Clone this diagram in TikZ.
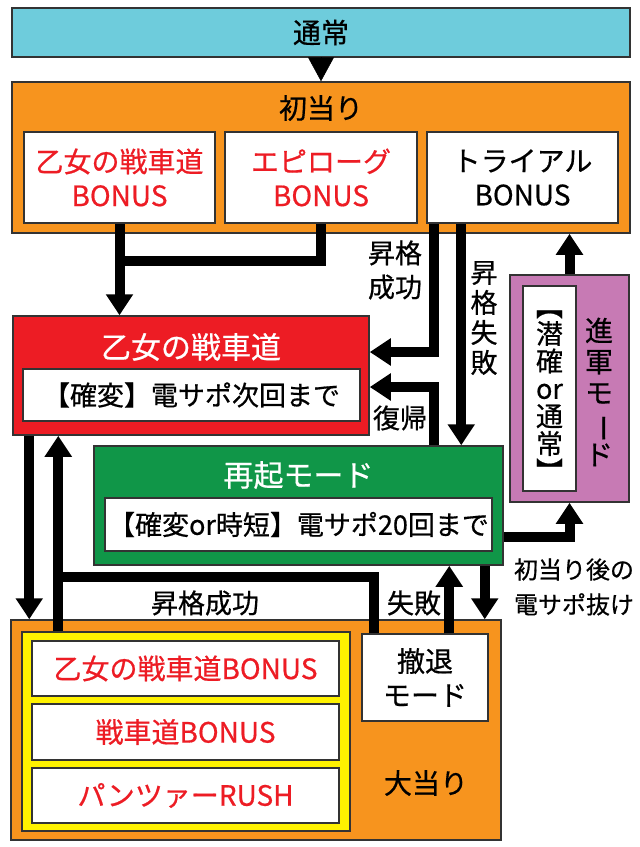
\documentclass[tikz,border=0pt]{standalone}
\usepackage{fontspec}
\setmainfont{Noto Sans CJK JP}[FakeBold=0.6]
\usepackage{graphicx}
\usetikzlibrary{arrows.meta,positioning,calc}
\definecolor{tsujoblue}{RGB}{110,204,220}
\definecolor{atariorg}{RGB}{247,148,30}
\definecolor{senred}{RGB}{237,28,36}
\definecolor{saikigrn}{RGB}{16,150,72}
\definecolor{shinpur}{RGB}{199,122,180}
\definecolor{rushyel}{RGB}{255,242,0}
\newcommand{\fsz}[2]{\fontsize{#1}{#2}\selectfont}
\newcommand{\vbar}[1]{\rotatebox[origin=c]{-90}{#1}}
\tikzset{
  blk/.style={draw=black!80,line width=1.5pt,rectangle,inner sep=0pt,align=center,font=\fsz{28}{34}},
  orgblk/.style={blk,fill=atariorg},
  whtblk/.style={blk,fill=white},
  redtxt/.style={text=senred},
  ttl/.style={font=\fsz{30}{36},text=white},
  arr/.style={line width=10pt,-{Triangle[length=21pt,width=26pt]}},
  ln/.style={line width=10pt},
  lbl/.style={font=\fsz{27}{34},align=center}
}
\begin{document}
\begin{tikzpicture}[x=1pt,y=-1pt]
  \useasboundingbox (0,0) rectangle (640,847);
  % 通常 and 初当り
  \node[blk,fill=tsujoblue,minimum width=618pt,minimum height=49pt] (tsujo) at (321,32.5) {通常};
  \node[orgblk,minimum width=618pt,minimum height=151pt] (hatsu) at (321,157.5) {};
  \node[font=\fsz{28}{34}] (hatsuttl) at (321,108) {初当り};
  \node[whtblk,redtxt,minimum width=191pt,minimum height=91pt] (otomebns) at (119.5,177.5) {乙女の戦車道\\BONUS};
  \node[whtblk,redtxt,minimum width=192pt,minimum height=91pt] (epibns) at (321,177.5) {エピローグ\\BONUS};
  \node[whtblk,minimum width=191pt,minimum height=91pt] (trialbns) at (522.5,177.5) {トライアル\\BONUS};

  % 乙女の戦車道
  \node[blk,fill=senred,minimum width=356pt,minimum height=119pt] (sen) at (191,375.5) {};
  \node[ttl] (senttl) at (191,347) {乙女の戦車道};
  \node[whtblk,font=\fsz{27}{34},minimum width=337pt,minimum height=52pt] (senin) at (191.5,395) {【確変】電サポ次回まで};

  % 進軍モード
  \node[blk,fill=shinpur,minimum width=119pt,minimum height=227pt] (shingun) at (569.5,388.5) {};
  \node[whtblk,font=\fsz{27}{27.5},minimum width=53pt,minimum height=205pt] (shinin) at (549.5,388.5) {\vbar{【}\\潜\\確\\or\\通\\常\\\vbar{】}};
  \node[font=\fsz{28}{31},align=center] (shinttl) at (599,392) {進\\軍\\モ\\\vbar{ー}\\ド};

  % 再起モード
  \node[blk,fill=saikigrn,minimum width=409pt,minimum height=119pt] (saiki) at (298.5,505.5) {};
  \node[ttl] (saikittl) at (298.5,475) {再起モード};
  \node[whtblk,font=\fsz{27}{34},minimum width=387pt,minimum height=53pt] (saikiin) at (298.5,524.5) {【確変or時短】電サポ20回まで};

  % 大当り
  \node[orgblk,minimum width=490pt,minimum height=220pt] (ooatari) at (256,730) {};
  \node[blk,fill=rushyel,minimum width=328pt,minimum height=199pt] (rushgrp) at (186,731.5) {};
  \node[whtblk,redtxt,minimum width=307pt,minimum height=55pt] (otomeb) at (185.5,668.5) {乙女の戦車道BONUS};
  \node[whtblk,redtxt,minimum width=307pt,minimum height=56pt] (senb) at (185.5,732) {戦車道BONUS};
  \node[whtblk,redtxt,minimum width=307pt,minimum height=55pt] (rush) at (185.5,795.5) {パンツァーRUSH};
  \node[whtblk,minimum width=126pt,minimum height=87pt] (tettai) at (425,677.5) {撤退\\モード};
  \node[font=\fsz{28}{34}] (ooatarittl) at (426,783) {大当り};

  % connectors
  \draw[-{Triangle[length=24pt,width=26pt]},line width=0.5pt] (tsujo) -- (hatsu);
  \coordinate (mrg) at ($(otomebns.south)+(0,37)$);
  \draw[arr] (otomebns.south) -- (otomebns.south |- sen.north);
  \draw[ln] (epibns.south) |- (mrg);

  \coordinate (upx) at ($(trialbns.south west)+(8,0)$);
  \coordinate (dnx) at ($(trialbns.south west)+(35,0)$);
  \draw[arr] (upx) |- ($(sen.east)+(0,-23.5)$);
  \draw[arr] (dnx) -- (dnx |- saiki.north);
  \draw[arr] (upx |- saiki.north) |- ($(sen.east)+(0,11.5)$);

  \draw[arr] (shingun.north) -- (shingun.north |- hatsu.south);
  \draw[arr] ($(saiki.east)+(0,31.5)$) -| (shingun.south);

  \coordinate (lx) at ($(sen.south west)+(17,0)$);
  \draw[arr] (lx) -- (lx |- ooatari.north);
  \coordinate (rx) at ($(rushgrp.north west)+(37,0)$);
  \draw[arr] (rx) -- (rx |- sen.south);
  \draw[ln] ($(tettai.north west)+(13,0)$) |- ($(rx)+(0,-54)$);
  \coordinate (fx) at ($(tettai.north west)+(88,0)$);
  \draw[arr] (fx) -- (fx |- saiki.south);
  \coordinate (bx) at ($(saiki.south east)+(-19,0)$);
  \draw[arr] (bx) -- (bx |- ooatari.north);

  % labels
  \node[lbl] (upok) at (395,270) {昇格\\成功};
  \node[lbl,font=\fsz{27}{30}] (upng) at (484,318) {昇\\格\\失\\敗};
  \node[lbl] (fukki) at (400,418) {復帰};
  \node[lbl,font=\fsz{24}{35}] (nuke) at (574,587) {初当り後の\\電サポ抜け};
  \node[lbl] (shippai) at (414,603) {失敗};
  \node[lbl] (upok2) at (205,603) {昇格成功};
\end{tikzpicture}
\end{document}
